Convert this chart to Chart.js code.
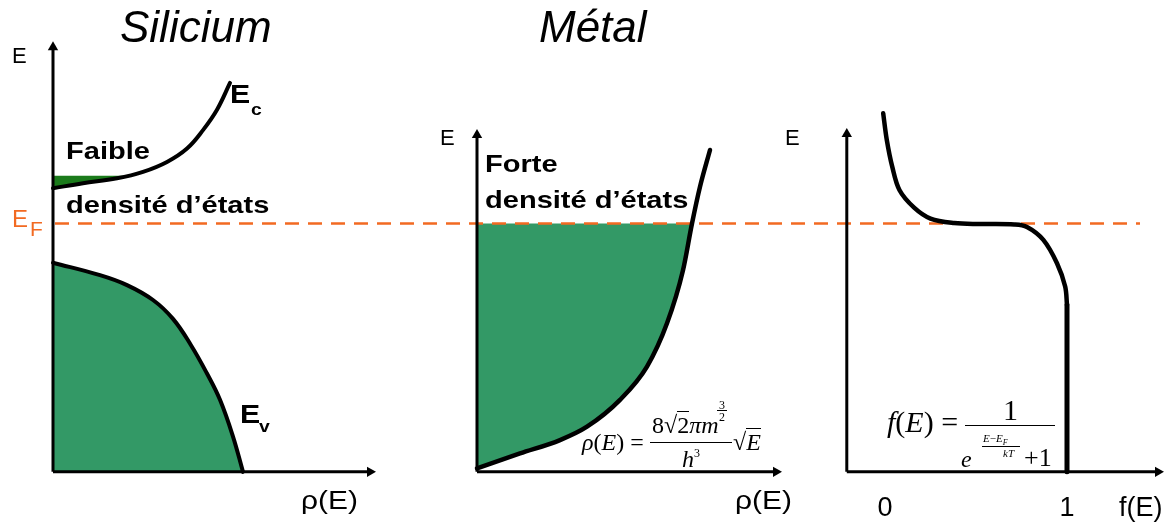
<!DOCTYPE html>
<html lang="fr">
<head>
<meta charset="utf-8">
<title>Densité d'états</title>
<script src="https://cdn.jsdelivr.net/npm/chart.js@4/dist/chart.umd.min.js"></script>
<style>
  html, body { margin: 0; padding: 0; background: #fff; }
  #cadre { position: relative; width: 1170px; height: 524px; overflow: hidden; }
  #graphique { position: absolute; left: 0; top: 0; }
  .txt { position: absolute; line-height: 1; white-space: nowrap; font-family: "Liberation Sans", Arial, sans-serif; color: #000; }
  .titre { font-size: 44px; font-style: italic; }
  .axe { font-size: 22px; }
  .large { transform: scaleX(1.15); transform-origin: left top; }
  .gras { font-size: 24px; font-weight: bold; transform: scaleX(1.21); transform-origin: left top; }
  .orange { color: #f26a22; }
  .tm { position: absolute; line-height: 1; white-space: nowrap; font-family: "Liberation Serif", "Times New Roman", serif; color: #000; }
  .tm i { font-style: italic; }
  .barre { position: absolute; background: #000; }
  .rac { border-top: 1.3px solid #000; }
</style>
</head>
<body>
<div id="cadre">
  <canvas id="graphique" width="1170" height="524"></canvas>

  <div class="txt titre" style="left:120px; top:5px;">Silicium</div>
  <div class="txt titre" style="left:539px; top:5px;">Métal</div>

  <div class="txt axe" style="left:12px; top:45px;">E</div>
  <div class="txt axe" style="left:440px; top:127px;">E</div>
  <div class="txt axe" style="left:785px; top:127px;">E</div>

  <div class="txt orange" style="left:12px; top:207px; font-size:24px;">E</div>
  <div class="txt orange" style="left:30px; top:218px; font-size:21px;">F</div>

  <div class="txt gras" style="left:66px; top:139px;">Faible</div>
  <div class="txt gras" style="left:66px; top:193px;">densité d’états</div>
  <div class="txt gras" style="left:485px; top:152px;">Forte</div>
  <div class="txt gras" style="left:485px; top:188px;">densité d’états</div>

  <div class="txt gras" style="left:230px; top:82px; font-size:25px;">E</div>
  <div class="txt gras" style="left:251px; top:102px; font-size:16px;">c</div>
  <div class="txt gras" style="left:240px; top:402px; font-size:25px;">E</div>
  <div class="txt gras" style="left:259px; top:419px; font-size:16px;">v</div>

  <div class="txt axe large" style="left:301px; top:487px; font-size:26px;">ρ(E)</div>
  <div class="txt axe large" style="left:735px; top:487px; font-size:26px;">ρ(E)</div>
  <div class="txt axe" style="left:1119px; top:494px; font-size:27px;">f(E)</div>

  <!-- formule de la densité d'états -->
  <div class="tm" style="left:582px; top:430px; font-size:24px;"><i>ρ</i>(<i>E</i>)&nbsp;=</div>
  <div class="tm" style="left:652px; top:413px; font-size:24px;">8√<span class="rac">2</span><i>πm</i></div>
  <div class="tm" style="left:719px; top:399px; font-size:12px;">3</div>
  <div class="barre" style="left:717px; top:410px; width:10px; height:1px;"></div>
  <div class="tm" style="left:719px; top:411px; font-size:12px;">2</div>
  <div class="barre" style="left:650px; top:442px; width:82px; height:1.3px;"></div>
  <div class="tm" style="left:682px; top:447px; font-size:24px;"><i>h</i></div>
  <div class="tm" style="left:694px; top:447px; font-size:12px;">3</div>
  <div class="tm" style="left:733px; top:430px; font-size:24px;">√<span class="rac"><i>E</i></span></div>

  <!-- formule de Fermi-Dirac -->
  <div class="tm" style="left:887px; top:407px; font-size:30px;"><i>f</i>(<i>E</i>)&nbsp;=</div>
  <div class="tm" style="left:1003px; top:395px; font-size:30px;">1</div>
  <div class="barre" style="left:965px; top:425px; width:90px; height:1.4px;"></div>
  <div class="tm" style="left:961px; top:447px; font-size:24px;"><i>e</i></div>
  <div class="tm" style="left:983px; top:433px; font-size:11px;"><i>E</i>−<i>E</i><sub style="font-size:8px;"><i>F</i></sub></div>
  <div class="barre" style="left:982px; top:446px; width:38px; height:1px;"></div>
  <div class="tm" style="left:1003px; top:448px; font-size:11px;"><i>kT</i></div>
  <div class="tm" style="left:1024px; top:445px; font-size:26px;">+1</div>

  <div id="graduations"></div>
</div>

<script>
// Niveau de Fermi (énergie en unités arbitraires, 0 = bas des axes)
const EF = 5.0;

// Silicium : bande de conduction Ec (rho, E)
const ecSilicium = [
  { x: 0.00, y: 5.71 }, { x: 0.30, y: 5.81 }, { x: 0.64, y: 5.91 },
  { x: 0.90, y: 6.04 }, { x: 1.14, y: 6.24 }, { x: 1.34, y: 6.51 },
  { x: 1.50, y: 6.88 }, { x: 1.64, y: 7.29 }, { x: 1.77, y: 7.83 }
];

// Silicium : petite zone d'états occupés sous Ec
const NIVEAU_ETATS_EC = 5.96;
const etatsEcSilicium = [
  { x: 0.00, y: 5.71 }, { x: 0.30, y: 5.81 }, { x: 0.64, y: 5.91 }, { x: 0.74, y: 5.96 }
];

// Silicium : bande de valence Ev
const evSilicium = [
  { x: 0.00, y: 4.21 }, { x: 0.47, y: 3.96 }, { x: 0.74, y: 3.76 },
  { x: 1.00, y: 3.46 }, { x: 1.20, y: 3.08 }, { x: 1.38, y: 2.55 },
  { x: 1.54, y: 1.98 }, { x: 1.67, y: 1.45 }, { x: 1.80, y: 0.71 },
  { x: 1.90, y: 0.00 }
];

// Métal : densité d'états en racine de E
const courbeMetal = [
  { x: 0.00, y: 0.07 }, { x: 0.43, y: 0.37 }, { x: 0.83, y: 0.64 },
  { x: 1.10, y: 0.91 }, { x: 1.43, y: 1.45 }, { x: 1.70, y: 2.12 },
  { x: 1.90, y: 2.99 }, { x: 2.06, y: 4.06 }, { x: 2.15, y: 5.00 },
  { x: 2.23, y: 5.74 }, { x: 2.33, y: 6.48 }
];

// Fonction de Fermi-Dirac (f, E) : partie courbe puis chute verticale à f = 1
const fermiDirac = [
  { x: -0.01, y: 7.22 }, { x: 0.01, y: 6.68 }, { x: 0.04, y: 6.14 },
  { x: 0.08, y: 5.67 }, { x: 0.16, y: 5.32 }, { x: 0.25, y: 5.10 },
  { x: 0.38, y: 5.01 }, { x: 0.52, y: 4.99 }, { x: 0.71, y: 4.98 },
  { x: 0.78, y: 4.93 }, { x: 0.87, y: 4.67 }, { x: 0.945, y: 4.20 },
  { x: 0.99, y: 3.73 }, { x: 1.00, y: 3.36 }, { x: 1.00, y: 0.00 }
];

// Graduations de l'axe f(E)
const graduationsF = [0, 1];
const libellesF = ['0', '1'];

// Étendue des axes (origine, bout de flèche)
const axeSiliciumX = [0, 3.17];
const axeSiliciumY = [0, 8.55];
const axeMetalX = [0, 2.99];
const axeMetalY = [0, 6.78];
const axeFermiX = [-0.21, 1.50];
const axeFermiY = [0, 6.80];
const traitEF = [0.02, 10.87];

const VERT = '#339966';
const VERT_FONCE = '#1b7b1b';
const ORANGE = '#f26a22';

/**
 * Construit une flèche d'axe (segment + triangle au bout)
 */
function fleche(axeId, points, rotation) {
  return {
    xAxisID: axeId,
    data: points,
    showLine: true,
    borderColor: '#000',
    backgroundColor: '#000',
    borderWidth: 3,
    pointRadius: [0, 6],
    pointStyle: 'triangle',
    pointRotation: rotation,
    pointBorderWidth: 0,
    fill: false,
    order: 0
  };
}

/**
 * Courbe noire épaisse (monotone, ou bézier si une tension est donnée)
 */
function courbe(axeId, points, largeur, tension) {
  return {
    xAxisID: axeId,
    data: points,
    showLine: true,
    borderColor: '#000',
    borderWidth: largeur,
    borderCapStyle: 'round',
    pointRadius: 0,
    cubicInterpolationMode: tension === undefined ? 'monotone' : 'default',
    tension: tension || 0,
    fill: false,
    order: 1
  };
}

/**
 * Surface remplie sans contour
 */
function surface(axeId, points, couleur, remplissage, tension) {
  return {
    xAxisID: axeId,
    data: points,
    showLine: true,
    borderWidth: 0,
    borderColor: 'transparent',
    backgroundColor: couleur,
    pointRadius: 0,
    cubicInterpolationMode: tension === undefined ? 'monotone' : 'default',
    tension: tension || 0,
    fill: remplissage,
    order: 5
  };
}

const remplissageMetal = courbeMetal.filter(p => p.y <= EF);
const fermiCourbe = fermiDirac.slice(0, -1);
const fermiChute = fermiDirac.slice(-2);

const datasets = [
  // axes
  fleche('x1', [{ x: axeSiliciumX[0], y: 0 }, { x: axeSiliciumX[1], y: 0 }], 90),
  fleche('x1', [{ x: 0, y: axeSiliciumY[0] }, { x: 0, y: axeSiliciumY[1] }], 0),
  fleche('x2', [{ x: axeMetalX[0], y: 0 }, { x: axeMetalX[1], y: 0 }], 90),
  fleche('x2', [{ x: 0, y: axeMetalY[0] }, { x: 0, y: axeMetalY[1] }], 0),
  fleche('x3', [{ x: axeFermiX[0], y: 0 }, { x: axeFermiX[1], y: 0 }], 90),
  fleche('x3', [{ x: axeFermiX[0], y: axeFermiY[0] }, { x: axeFermiX[0], y: axeFermiY[1] }], 0),

  // courbes
  courbe('x1', ecSilicium, 4, 0.4),
  courbe('x1', evSilicium, 4, 0.4),
  courbe('x2', courbeMetal, 4.5),
  courbe('x3', fermiCourbe, 4.5, 0.35),
  courbe('x3', fermiChute, 5, 0),

  // niveau de Fermi
  {
    xAxisID: 'x1',
    data: [{ x: traitEF[0], y: EF }, { x: traitEF[1], y: EF }],
    showLine: true,
    borderColor: ORANGE,
    borderWidth: 2.5,
    borderDash: [14, 9],
    pointRadius: 0,
    fill: false,
    order: 3
  },

  // zones remplies
  surface('x1', evSilicium, VERT, 'origin', 0.4),
  surface('x1', etatsEcSilicium, VERT_FONCE, { value: NIVEAU_ETATS_EC }, 0.4),
  surface('x2', remplissageMetal, VERT, { value: EF })
];

// Graduations 0 et 1 sous l'axe f(E), placées par l'échelle x3
const pluginGraduations = {
  id: 'graduations',
  afterDraw(chart) {
    const boite = document.getElementById('graduations');
    boite.innerHTML = '';
    const echelle = chart.scales.x3;
    graduationsF.forEach((v, i) => {
      const el = document.createElement('div');
      el.className = 'txt';
      el.style.fontSize = '27px';
      el.style.top = '494px';
      el.style.left = echelle.getPixelForValue(v) + 'px';
      el.style.transform = 'translateX(-50%)';
      el.textContent = libellesF[i];
      boite.appendChild(el);
    });
  }
};

const ctx = document.getElementById('graphique').getContext('2d');

new Chart(ctx, {
  type: 'scatter',
  data: { datasets },
  options: {
    responsive: false,
    animation: false,
    events: [],
    layout: { padding: 0, autoPadding: false },
    plugins: {
      legend: { display: false },
      tooltip: { enabled: false }
    },
    scales: {
      x1: { type: 'linear', axis: 'x', min: -0.53, max: 11.17, display: false },
      x2: { type: 'linear', axis: 'x', min: -4.77, max: 6.93, display: false },
      x3: { type: 'linear', axis: 'x', min: -4.863, max: 1.566, display: false },
      y: { type: 'linear', min: -1.05, max: 9.5, display: false }
    }
  },
  plugins: [pluginGraduations]
});
</script>
</body>
</html>
